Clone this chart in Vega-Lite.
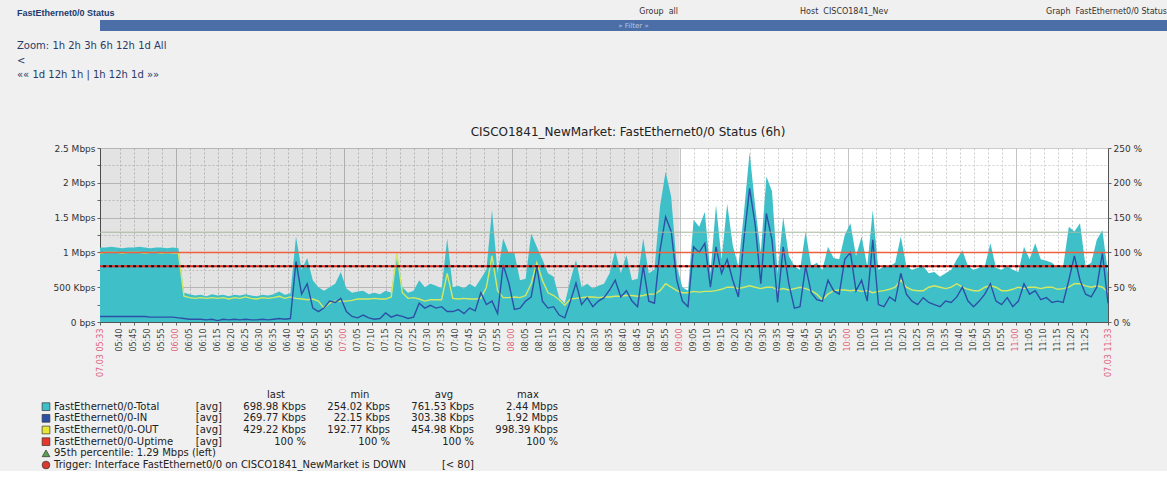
{
  "$schema": "https://vega.github.io/schema/vega-lite/v6.json",
  "background": "#f0f0f0",
  "padding": {"left": 17, "top": 8, "right": 0, "bottom": 0},
  "config": {"view": {"stroke": null}, "font": "DejaVu Sans", "axis": {"labelOverlap": false}},
  "title": {"text": "FastEthernet0/0 Status", "anchor": "start", "frame": "bounds", "font": "Liberation Sans", "fontSize": 9, "fontWeight": "bold", "color": "#1c3a6e", "offset": -10},
  "datasets": {
    "traffic": [
      {"time": "2012-03-07T05:33:00Z", "total": 1.07, "in": 0.08, "out": 0.99},
      {"time": "2012-03-07T05:35:00Z", "total": 1.07, "in": 0.08, "out": 1.0},
      {"time": "2012-03-07T05:37:00Z", "total": 1.08, "in": 0.08, "out": 1.0},
      {"time": "2012-03-07T05:39:00Z", "total": 1.07, "in": 0.08, "out": 1.0},
      {"time": "2012-03-07T05:41:00Z", "total": 1.06, "in": 0.08, "out": 0.99},
      {"time": "2012-03-07T05:43:00Z", "total": 1.07, "in": 0.08, "out": 1.0},
      {"time": "2012-03-07T05:45:00Z", "total": 1.07, "in": 0.08, "out": 1.0},
      {"time": "2012-03-07T05:47:00Z", "total": 1.08, "in": 0.08, "out": 1.0},
      {"time": "2012-03-07T05:49:00Z", "total": 1.07, "in": 0.08, "out": 0.99},
      {"time": "2012-03-07T05:51:00Z", "total": 1.06, "in": 0.07, "out": 1.0},
      {"time": "2012-03-07T05:53:00Z", "total": 1.07, "in": 0.07, "out": 1.0},
      {"time": "2012-03-07T05:55:00Z", "total": 1.07, "in": 0.07, "out": 0.99},
      {"time": "2012-03-07T05:57:00Z", "total": 1.06, "in": 0.07, "out": 1.0},
      {"time": "2012-03-07T05:59:00Z", "total": 1.07, "in": 0.07, "out": 0.99},
      {"time": "2012-03-07T06:01:00Z", "total": 1.06, "in": 0.06, "out": 0.99},
      {"time": "2012-03-07T06:03:00Z", "total": 0.42, "in": 0.05, "out": 0.37},
      {"time": "2012-03-07T06:05:00Z", "total": 0.4, "in": 0.04, "out": 0.35},
      {"time": "2012-03-07T06:07:00Z", "total": 0.38, "in": 0.04, "out": 0.34},
      {"time": "2012-03-07T06:09:00Z", "total": 0.39, "in": 0.04, "out": 0.35},
      {"time": "2012-03-07T06:11:00Z", "total": 0.37, "in": 0.03, "out": 0.34},
      {"time": "2012-03-07T06:13:00Z", "total": 0.4, "in": 0.04, "out": 0.35},
      {"time": "2012-03-07T06:15:00Z", "total": 0.38, "in": 0.02, "out": 0.34},
      {"time": "2012-03-07T06:17:00Z", "total": 0.39, "in": 0.04, "out": 0.35},
      {"time": "2012-03-07T06:19:00Z", "total": 0.37, "in": 0.03, "out": 0.33},
      {"time": "2012-03-07T06:21:00Z", "total": 0.39, "in": 0.04, "out": 0.35},
      {"time": "2012-03-07T06:23:00Z", "total": 0.38, "in": 0.03, "out": 0.34},
      {"time": "2012-03-07T06:25:00Z", "total": 0.4, "in": 0.04, "out": 0.36},
      {"time": "2012-03-07T06:27:00Z", "total": 0.38, "in": 0.03, "out": 0.34},
      {"time": "2012-03-07T06:29:00Z", "total": 0.37, "in": 0.03, "out": 0.33},
      {"time": "2012-03-07T06:31:00Z", "total": 0.39, "in": 0.04, "out": 0.35},
      {"time": "2012-03-07T06:33:00Z", "total": 0.38, "in": 0.03, "out": 0.34},
      {"time": "2012-03-07T06:35:00Z", "total": 0.4, "in": 0.04, "out": 0.35},
      {"time": "2012-03-07T06:37:00Z", "total": 0.44, "in": 0.05, "out": 0.37},
      {"time": "2012-03-07T06:39:00Z", "total": 0.39, "in": 0.04, "out": 0.34},
      {"time": "2012-03-07T06:41:00Z", "total": 0.41, "in": 0.05, "out": 0.36},
      {"time": "2012-03-07T06:43:00Z", "total": 1.23, "in": 0.87, "out": 0.34},
      {"time": "2012-03-07T06:45:00Z", "total": 0.75, "in": 0.4, "out": 0.33},
      {"time": "2012-03-07T06:47:00Z", "total": 0.92, "in": 0.55, "out": 0.32},
      {"time": "2012-03-07T06:49:00Z", "total": 0.6, "in": 0.2, "out": 0.33},
      {"time": "2012-03-07T06:51:00Z", "total": 0.5, "in": 0.15, "out": 0.3},
      {"time": "2012-03-07T06:53:00Z", "total": 0.45, "in": 0.2, "out": 0.2},
      {"time": "2012-03-07T06:55:00Z", "total": 0.5, "in": 0.3, "out": 0.27},
      {"time": "2012-03-07T06:57:00Z", "total": 0.55, "in": 0.28, "out": 0.3},
      {"time": "2012-03-07T06:59:00Z", "total": 0.72, "in": 0.34, "out": 0.3},
      {"time": "2012-03-07T07:01:00Z", "total": 0.48, "in": 0.15, "out": 0.3},
      {"time": "2012-03-07T07:03:00Z", "total": 0.42, "in": 0.08, "out": 0.31},
      {"time": "2012-03-07T07:05:00Z", "total": 0.44, "in": 0.06, "out": 0.33},
      {"time": "2012-03-07T07:07:00Z", "total": 0.45, "in": 0.1, "out": 0.33},
      {"time": "2012-03-07T07:09:00Z", "total": 0.4, "in": 0.06, "out": 0.33},
      {"time": "2012-03-07T07:11:00Z", "total": 0.42, "in": 0.04, "out": 0.34},
      {"time": "2012-03-07T07:13:00Z", "total": 0.4, "in": 0.05, "out": 0.33},
      {"time": "2012-03-07T07:15:00Z", "total": 0.45, "in": 0.13, "out": 0.33},
      {"time": "2012-03-07T07:17:00Z", "total": 0.42, "in": 0.07, "out": 0.36},
      {"time": "2012-03-07T07:19:00Z", "total": 1.0, "in": 0.1, "out": 0.98},
      {"time": "2012-03-07T07:21:00Z", "total": 0.5, "in": 0.08, "out": 0.42},
      {"time": "2012-03-07T07:23:00Z", "total": 0.42, "in": 0.05, "out": 0.34},
      {"time": "2012-03-07T07:25:00Z", "total": 0.45, "in": 0.07, "out": 0.35},
      {"time": "2012-03-07T07:27:00Z", "total": 0.6, "in": 0.27, "out": 0.33},
      {"time": "2012-03-07T07:29:00Z", "total": 0.5, "in": 0.2, "out": 0.3},
      {"time": "2012-03-07T07:31:00Z", "total": 0.55, "in": 0.24, "out": 0.32},
      {"time": "2012-03-07T07:33:00Z", "total": 0.52, "in": 0.2, "out": 0.32},
      {"time": "2012-03-07T07:35:00Z", "total": 0.48, "in": 0.22, "out": 0.32},
      {"time": "2012-03-07T07:37:00Z", "total": 1.2, "in": 0.15, "out": 0.7},
      {"time": "2012-03-07T07:39:00Z", "total": 0.5, "in": 0.15, "out": 0.34},
      {"time": "2012-03-07T07:41:00Z", "total": 0.52, "in": 0.18, "out": 0.33},
      {"time": "2012-03-07T07:43:00Z", "total": 0.48, "in": 0.12, "out": 0.34},
      {"time": "2012-03-07T07:45:00Z", "total": 0.55, "in": 0.2, "out": 0.33},
      {"time": "2012-03-07T07:47:00Z", "total": 0.5, "in": 0.16, "out": 0.33},
      {"time": "2012-03-07T07:49:00Z", "total": 0.62, "in": 0.42, "out": 0.34},
      {"time": "2012-03-07T07:51:00Z", "total": 0.75, "in": 0.25, "out": 0.5},
      {"time": "2012-03-07T07:53:00Z", "total": 1.61, "in": 0.3, "out": 0.95},
      {"time": "2012-03-07T07:55:00Z", "total": 0.7, "in": 0.12, "out": 0.45},
      {"time": "2012-03-07T07:57:00Z", "total": 1.2, "in": 0.82, "out": 0.35},
      {"time": "2012-03-07T07:59:00Z", "total": 0.99, "in": 0.56, "out": 0.35},
      {"time": "2012-03-07T08:01:00Z", "total": 0.99, "in": 0.18, "out": 0.36},
      {"time": "2012-03-07T08:03:00Z", "total": 0.6, "in": 0.2, "out": 0.35},
      {"time": "2012-03-07T08:05:00Z", "total": 0.62, "in": 0.3, "out": 0.38},
      {"time": "2012-03-07T08:07:00Z", "total": 1.27, "in": 0.36, "out": 0.55},
      {"time": "2012-03-07T08:09:00Z", "total": 1.08, "in": 0.8, "out": 0.85},
      {"time": "2012-03-07T08:11:00Z", "total": 0.9, "in": 0.3, "out": 0.6},
      {"time": "2012-03-07T08:13:00Z", "total": 0.7, "in": 0.2, "out": 0.42},
      {"time": "2012-03-07T08:15:00Z", "total": 0.65, "in": 0.22, "out": 0.38},
      {"time": "2012-03-07T08:17:00Z", "total": 0.35, "in": 0.1, "out": 0.32},
      {"time": "2012-03-07T08:19:00Z", "total": 0.27, "in": 0.06, "out": 0.24},
      {"time": "2012-03-07T08:21:00Z", "total": 0.6, "in": 0.3, "out": 0.33},
      {"time": "2012-03-07T08:23:00Z", "total": 0.89, "in": 0.56, "out": 0.34},
      {"time": "2012-03-07T08:25:00Z", "total": 0.5, "in": 0.25, "out": 0.35},
      {"time": "2012-03-07T08:27:00Z", "total": 0.55, "in": 0.35, "out": 0.36},
      {"time": "2012-03-07T08:29:00Z", "total": 0.48, "in": 0.22, "out": 0.36},
      {"time": "2012-03-07T08:31:00Z", "total": 0.52, "in": 0.3, "out": 0.35},
      {"time": "2012-03-07T08:33:00Z", "total": 0.55, "in": 0.35, "out": 0.36},
      {"time": "2012-03-07T08:35:00Z", "total": 0.7, "in": 0.46, "out": 0.36},
      {"time": "2012-03-07T08:37:00Z", "total": 1.03, "in": 0.6, "out": 0.37},
      {"time": "2012-03-07T08:39:00Z", "total": 0.7, "in": 0.36, "out": 0.37},
      {"time": "2012-03-07T08:41:00Z", "total": 0.96, "in": 0.45, "out": 0.38},
      {"time": "2012-03-07T08:43:00Z", "total": 0.6, "in": 0.3, "out": 0.38},
      {"time": "2012-03-07T08:45:00Z", "total": 0.62, "in": 0.22, "out": 0.37},
      {"time": "2012-03-07T08:47:00Z", "total": 1.2, "in": 0.8, "out": 0.38},
      {"time": "2012-03-07T08:49:00Z", "total": 0.7, "in": 0.3, "out": 0.4},
      {"time": "2012-03-07T08:51:00Z", "total": 0.75, "in": 0.27, "out": 0.4},
      {"time": "2012-03-07T08:53:00Z", "total": 1.66, "in": 1.03, "out": 0.45},
      {"time": "2012-03-07T08:55:00Z", "total": 2.16, "in": 1.51, "out": 0.55},
      {"time": "2012-03-07T08:57:00Z", "total": 1.8, "in": 1.3, "out": 0.5},
      {"time": "2012-03-07T08:59:00Z", "total": 0.8, "in": 0.6, "out": 0.45},
      {"time": "2012-03-07T09:01:00Z", "total": 0.5, "in": 0.3, "out": 0.42},
      {"time": "2012-03-07T09:03:00Z", "total": 0.45, "in": 0.22, "out": 0.42},
      {"time": "2012-03-07T09:05:00Z", "total": 1.47, "in": 1.08, "out": 0.44},
      {"time": "2012-03-07T09:07:00Z", "total": 1.37, "in": 1.0, "out": 0.43},
      {"time": "2012-03-07T09:09:00Z", "total": 1.58, "in": 1.13, "out": 0.44},
      {"time": "2012-03-07T09:11:00Z", "total": 0.7, "in": 0.5, "out": 0.44},
      {"time": "2012-03-07T09:13:00Z", "total": 1.68, "in": 1.08, "out": 0.45},
      {"time": "2012-03-07T09:15:00Z", "total": 0.9, "in": 0.7, "out": 0.47},
      {"time": "2012-03-07T09:17:00Z", "total": 1.7, "in": 0.9, "out": 0.5},
      {"time": "2012-03-07T09:19:00Z", "total": 1.1, "in": 0.6, "out": 0.5},
      {"time": "2012-03-07T09:21:00Z", "total": 0.8, "in": 0.36, "out": 0.48},
      {"time": "2012-03-07T09:23:00Z", "total": 1.58, "in": 1.2, "out": 0.5},
      {"time": "2012-03-07T09:25:00Z", "total": 2.44, "in": 1.92, "out": 0.52},
      {"time": "2012-03-07T09:27:00Z", "total": 1.66, "in": 1.4, "out": 0.5},
      {"time": "2012-03-07T09:29:00Z", "total": 1.0, "in": 0.55, "out": 0.48},
      {"time": "2012-03-07T09:31:00Z", "total": 2.09, "in": 1.56, "out": 0.5},
      {"time": "2012-03-07T09:33:00Z", "total": 1.88, "in": 1.18, "out": 0.5},
      {"time": "2012-03-07T09:35:00Z", "total": 0.7, "in": 0.28, "out": 0.46},
      {"time": "2012-03-07T09:37:00Z", "total": 1.51, "in": 1.08, "out": 0.48},
      {"time": "2012-03-07T09:39:00Z", "total": 0.95, "in": 0.55, "out": 0.46},
      {"time": "2012-03-07T09:41:00Z", "total": 0.8, "in": 0.2, "out": 0.48},
      {"time": "2012-03-07T09:43:00Z", "total": 0.75, "in": 0.22, "out": 0.5},
      {"time": "2012-03-07T09:45:00Z", "total": 1.3, "in": 0.8, "out": 0.48},
      {"time": "2012-03-07T09:47:00Z", "total": 0.8, "in": 0.42, "out": 0.45},
      {"time": "2012-03-07T09:49:00Z", "total": 0.85, "in": 0.32, "out": 0.4},
      {"time": "2012-03-07T09:51:00Z", "total": 0.75, "in": 0.3, "out": 0.32},
      {"time": "2012-03-07T09:53:00Z", "total": 1.08, "in": 0.6, "out": 0.4},
      {"time": "2012-03-07T09:55:00Z", "total": 0.92, "in": 0.45, "out": 0.45},
      {"time": "2012-03-07T09:57:00Z", "total": 0.9, "in": 0.4, "out": 0.46},
      {"time": "2012-03-07T09:59:00Z", "total": 1.25, "in": 0.9, "out": 0.46},
      {"time": "2012-03-07T10:01:00Z", "total": 1.42, "in": 1.0, "out": 0.45},
      {"time": "2012-03-07T10:03:00Z", "total": 0.95, "in": 0.45, "out": 0.46},
      {"time": "2012-03-07T10:05:00Z", "total": 1.23, "in": 0.6, "out": 0.44},
      {"time": "2012-03-07T10:07:00Z", "total": 0.8, "in": 0.3, "out": 0.45},
      {"time": "2012-03-07T10:09:00Z", "total": 1.61, "in": 1.18, "out": 0.42},
      {"time": "2012-03-07T10:11:00Z", "total": 0.75, "in": 0.25, "out": 0.44},
      {"time": "2012-03-07T10:13:00Z", "total": 0.8, "in": 0.22, "out": 0.45},
      {"time": "2012-03-07T10:15:00Z", "total": 0.8, "in": 0.36, "out": 0.47},
      {"time": "2012-03-07T10:17:00Z", "total": 0.85, "in": 0.3, "out": 0.5},
      {"time": "2012-03-07T10:19:00Z", "total": 1.23, "in": 0.7, "out": 0.6},
      {"time": "2012-03-07T10:21:00Z", "total": 0.8, "in": 0.4, "out": 0.5},
      {"time": "2012-03-07T10:23:00Z", "total": 0.75, "in": 0.3, "out": 0.46},
      {"time": "2012-03-07T10:25:00Z", "total": 0.78, "in": 0.25, "out": 0.45},
      {"time": "2012-03-07T10:27:00Z", "total": 0.8, "in": 0.35, "out": 0.45},
      {"time": "2012-03-07T10:29:00Z", "total": 0.7, "in": 0.28, "out": 0.5},
      {"time": "2012-03-07T10:31:00Z", "total": 0.72, "in": 0.25, "out": 0.52},
      {"time": "2012-03-07T10:33:00Z", "total": 0.65, "in": 0.22, "out": 0.5},
      {"time": "2012-03-07T10:35:00Z", "total": 0.7, "in": 0.3, "out": 0.48},
      {"time": "2012-03-07T10:37:00Z", "total": 0.75, "in": 0.28, "out": 0.5},
      {"time": "2012-03-07T10:39:00Z", "total": 0.9, "in": 0.36, "out": 0.55},
      {"time": "2012-03-07T10:41:00Z", "total": 1.03, "in": 0.5, "out": 0.5},
      {"time": "2012-03-07T10:43:00Z", "total": 0.8, "in": 0.3, "out": 0.47},
      {"time": "2012-03-07T10:45:00Z", "total": 0.75, "in": 0.22, "out": 0.45},
      {"time": "2012-03-07T10:47:00Z", "total": 0.78, "in": 0.3, "out": 0.45},
      {"time": "2012-03-07T10:49:00Z", "total": 0.8, "in": 0.4, "out": 0.5},
      {"time": "2012-03-07T10:51:00Z", "total": 1.13, "in": 0.55, "out": 0.52},
      {"time": "2012-03-07T10:53:00Z", "total": 0.78, "in": 0.3, "out": 0.5},
      {"time": "2012-03-07T10:55:00Z", "total": 0.75, "in": 0.25, "out": 0.45},
      {"time": "2012-03-07T10:57:00Z", "total": 0.8, "in": 0.35, "out": 0.45},
      {"time": "2012-03-07T10:59:00Z", "total": 0.75, "in": 0.22, "out": 0.47},
      {"time": "2012-03-07T11:01:00Z", "total": 0.72, "in": 0.3, "out": 0.5},
      {"time": "2012-03-07T11:03:00Z", "total": 1.08, "in": 0.55, "out": 0.48},
      {"time": "2012-03-07T11:05:00Z", "total": 0.9, "in": 0.4, "out": 0.5},
      {"time": "2012-03-07T11:07:00Z", "total": 1.13, "in": 0.45, "out": 0.5},
      {"time": "2012-03-07T11:09:00Z", "total": 0.9, "in": 0.32, "out": 0.48},
      {"time": "2012-03-07T11:11:00Z", "total": 0.88, "in": 0.35, "out": 0.5},
      {"time": "2012-03-07T11:13:00Z", "total": 0.85, "in": 0.28, "out": 0.5},
      {"time": "2012-03-07T11:15:00Z", "total": 0.78, "in": 0.3, "out": 0.47},
      {"time": "2012-03-07T11:17:00Z", "total": 0.8, "in": 0.28, "out": 0.48},
      {"time": "2012-03-07T11:19:00Z", "total": 1.37, "in": 0.6, "out": 0.5},
      {"time": "2012-03-07T11:21:00Z", "total": 1.3, "in": 0.95, "out": 0.55},
      {"time": "2012-03-07T11:23:00Z", "total": 1.42, "in": 0.6, "out": 0.55},
      {"time": "2012-03-07T11:25:00Z", "total": 0.8, "in": 0.4, "out": 0.52},
      {"time": "2012-03-07T11:27:00Z", "total": 0.85, "in": 0.36, "out": 0.5},
      {"time": "2012-03-07T11:29:00Z", "total": 1.18, "in": 0.5, "out": 0.52},
      {"time": "2012-03-07T11:31:00Z", "total": 1.32, "in": 0.99, "out": 0.5},
      {"time": "2012-03-07T11:33:00Z", "total": 0.7, "in": 0.27, "out": 0.43}
    ]
  },
  "spacing": 43,
  "vconcat": [
    {
      "vconcat": [
        {
          "width": 1067,
          "height": 11,
          "data": {"values": [{"label": "» Filter »"}]},
          "title": {"text": "Group\u00a0\u00a0all\u00a0\u00a0\u00a0\u00a0\u00a0\u00a0\u00a0\u00a0\u00a0\u00a0\u00a0\u00a0\u00a0\u00a0\u00a0\u00a0\u00a0\u00a0\u00a0\u00a0\u00a0\u00a0\u00a0\u00a0\u00a0\u00a0\u00a0\u00a0\u00a0\u00a0\u00a0\u00a0\u00a0\u00a0\u00a0\u00a0\u00a0\u00a0\u00a0\u00a0\u00a0\u00a0\u00a0\u00a0\u00a0\u00a0\u00a0\u00a0Host\u00a0\u00a0CISCO1841_Nev\u00a0\u00a0\u00a0\u00a0\u00a0\u00a0\u00a0\u00a0\u00a0\u00a0\u00a0\u00a0\u00a0\u00a0\u00a0\u00a0\u00a0\u00a0\u00a0\u00a0\u00a0\u00a0\u00a0\u00a0\u00a0\u00a0\u00a0\u00a0\u00a0\u00a0\u00a0\u00a0\u00a0\u00a0\u00a0\u00a0\u00a0\u00a0\u00a0\u00a0\u00a0\u00a0\u00a0\u00a0\u00a0\u00a0\u00a0\u00a0\u00a0\u00a0\u00a0\u00a0\u00a0\u00a0\u00a0\u00a0\u00a0\u00a0\u00a0\u00a0\u00a0\u00a0Graph\u00a0\u00a0FastEthernet0/0 Status\u00a0\u00a0", "orient": "top", "anchor": "end", "offset": 4, "fontSize": 8, "fontWeight": "normal", "color": "#333333"},
          "layer": [
            {"mark": {"type": "rect", "color": "#4b6ea6"}, "encoding": {}},
            {"mark": {"type": "text", "color": "#b8c8e0", "fontSize": 7}, "encoding": {"text": {"field": "label"}}}
          ]
        },
        {
          "width": 1067,
          "height": 1,
          "data": {"values": [{"label": ""}]},
          "title": {"text": ["Zoom: 1h 2h 3h 6h 12h 1d All", "<", "«« 1d 12h 1h | 1h 12h 1d »»"], "orient": "top", "anchor": "start", "dx": -83, "offset": 2, "fontSize": 10, "fontWeight": "normal", "lineHeight": 14.5, "color": "#2a3a66"},
          "mark": {"type": "rect", "color": "#f0f0f0"},
          "encoding": {}
        }
      ],
      "spacing": 10
    },
    {
      "spacing": 13,
      "vconcat": [
        {
          "width": 1008,
          "height": 174,
          "view": {"fill": "#ffffff"},
          "title": {"text": "CISCO1841_NewMarket: FastEthernet0/0 Status  (6h)", "fontSize": 12, "fontWeight": "normal", "color": "#222222", "dx": 24, "offset": 5},
          "resolve": {"scale": {"y": "independent"}},
          "layer": [
            {
              "data": {"values": [{"start": "2012-03-07T05:33:00Z", "end": "2012-03-07T09:00:00Z"}]},
              "mark": {"type": "rect", "color": "#000000", "opacity": 0.11},
              "encoding": {
                "x": {
                  "field": "start", "type": "temporal", "title": null,
                  "scale": {"type": "utc", "domain": [1331098380000, 1331119980000]},
                  "axis": {
                    "values": [1331098380000, 1331098800000, 1331099100000, 1331099400000, 1331099700000, 1331100000000, 1331100300000, 1331100600000, 1331100900000, 1331101200000, 1331101500000, 1331101800000, 1331102100000, 1331102400000, 1331102700000, 1331103000000, 1331103300000, 1331103600000, 1331103900000, 1331104200000, 1331104500000, 1331104800000, 1331105100000, 1331105400000, 1331105700000, 1331106000000, 1331106300000, 1331106600000, 1331106900000, 1331107200000, 1331107500000, 1331107800000, 1331108100000, 1331108400000, 1331108700000, 1331109000000, 1331109300000, 1331109600000, 1331109900000, 1331110200000, 1331110500000, 1331110800000, 1331111100000, 1331111400000, 1331111700000, 1331112000000, 1331112300000, 1331112600000, 1331112900000, 1331113200000, 1331113500000, 1331113800000, 1331114100000, 1331114400000, 1331114700000, 1331115000000, 1331115300000, 1331115600000, 1331115900000, 1331116200000, 1331116500000, 1331116800000, 1331117100000, 1331117400000, 1331117700000, 1331118000000, 1331118300000, 1331118600000, 1331118900000, 1331119200000, 1331119500000, 1331119980000],
                    "tickCount": 200,
                    "labelExpr": "utcminutes(datum.value) % 5 != 0 ? utcFormat(datum.value, '%d.%m %H:%M') : utcFormat(datum.value, '%H:%M')",
                    "labelAngle": 270,
                    "labelFontSize": 8,
                    "labelOverlap": false,
                    "labelFlush": false,
                    "labelBound": false,
                    "labelPadding": 3,
                    "labelColor": {"condition": {"test": "utcminutes(datum.value) == 0 || utcminutes(datum.value) % 5 != 0", "value": "#e0607a"}, "value": "#444444"},
                    "tickSize": 3,
                    "tickColor": "#666666",
                    "domainColor": "#555555",
                    "grid": true,
                    "gridColor": {"condition": {"test": "utcminutes(datum.value) == 0", "value": "#b0b0b0"}, "value": "#cccccc"},
                    "gridDash": {"condition": {"test": "utcminutes(datum.value) == 0", "value": [1, 0]}, "value": [2, 2]}
                  }
                },
                "x2": {"field": "end"}
              }
            },
            {
              "data": {"name": "traffic"},
              "mark": {"type": "area", "color": "#3fc0c9"},
              "encoding": {
                "x": {"field": "time", "type": "temporal", "scale": {"type": "utc"}, "title": null},
                "y": {
                  "field": "total", "type": "quantitative", "title": null,
                  "scale": {"domain": [0, 2.5], "nice": false},
                  "axis": {
                    "values": [0, 0.25, 0.5, 0.75, 1, 1.25, 1.5, 1.75, 2, 2.25, 2.5],
                    "tickCount": 100,
                    "labelExpr": "datum.value % 0.5 != 0 ? '' : datum.value == 0 ? '0 bps' : datum.value < 1 ? format(datum.value * 1000, 'd') + ' Kbps' : datum.value + ' Mbps'",
                    "labelFontSize": 9,
                    "labelColor": "#333333",
                    "tickSize": 3,
                    "tickColor": "#666666",
                    "domainColor": "#555555",
                    "grid": true,
                    "gridColor": {"condition": {"test": "datum.value % 0.5 == 0", "value": "#bdbdbd"}, "value": "#d2d2d2"},
                    "gridDash": {"condition": {"test": "datum.value % 0.5 == 0", "value": [1, 0]}, "value": [2, 2]}
                  }
                }
              }
            },
            {
              "data": {"name": "traffic"},
              "mark": {"type": "line", "color": "#d4e764", "strokeWidth": 1.4},
              "encoding": {
                "x": {"field": "time", "type": "temporal", "scale": {"type": "utc"}, "title": null},
                "y": {"field": "out", "type": "quantitative", "title": null, "scale": {"domain": [0, 2.5], "nice": false}, "axis": null}
              }
            },
            {
              "data": {"name": "traffic"},
              "mark": {"type": "line", "color": "#2c50a6", "strokeWidth": 1.4},
              "encoding": {
                "x": {"field": "time", "type": "temporal", "scale": {"type": "utc"}, "title": null},
                "y": {"field": "in", "type": "quantitative", "title": null, "scale": {"domain": [0, 2.5], "nice": false}, "axis": null}
              }
            },
            {
              "data": {"values": [{"p95": 1.29}]},
              "mark": {"type": "rule", "color": "#a3b89c", "strokeWidth": 1},
              "encoding": {"y": {"field": "p95", "type": "quantitative", "title": null, "scale": {"domain": [0, 2.5], "nice": false}, "axis": null}}
            },
            {
              "data": {"values": [{"time": "2012-03-07T05:33:00Z", "uptime": 100}, {"time": "2012-03-07T11:33:00Z", "uptime": 100}]},
              "mark": {"type": "line", "color": "#f0603c", "strokeWidth": 1.5},
              "encoding": {
                "x": {"field": "time", "type": "temporal", "scale": {"type": "utc"}, "title": null},
                "y": {
                  "field": "uptime", "type": "quantitative", "title": null,
                  "scale": {"domain": [0, 250], "nice": false},
                  "axis": {"orient": "right", "values": [0, 50, 100, 150, 200, 250], "tickCount": 100, "labelExpr": "datum.value + ' %'", "labelFontSize": 9, "labelColor": "#333333", "tickSize": 3, "tickColor": "#666666", "domainColor": "#555555", "grid": false}
                }
              }
            },
            {
              "data": {"values": [{"trigger": 80}]},
              "mark": {"type": "rule", "color": "#e02a20", "strokeWidth": 2},
              "encoding": {"y": {"field": "trigger", "type": "quantitative", "title": null, "scale": {"domain": [0, 250], "nice": false}, "axis": null}}
            },
            {
              "data": {"values": [{"trigger": 80}]},
              "mark": {"type": "rule", "color": "#111111", "strokeWidth": 2, "strokeDash": [3, 3]},
              "encoding": {"y": {"field": "trigger", "type": "quantitative", "title": null, "scale": {"domain": [0, 250], "nice": false}, "axis": null}}
            }
          ]
        },
        {
          "width": 460,
          "height": 70,
          "data": {"values": [
            {"row": "hdr", "name": "", "fn": "", "last": "last", "min": "min", "avg": "avg", "max": "max"},
            {"row": "Total", "name": "FastEthernet0/0-Total", "fn": "[avg]", "last": "698.98 Kbps", "min": "254.02 Kbps", "avg": "761.53 Kbps", "max": "2.44 Mbps"},
            {"row": "IN", "name": "FastEthernet0/0-IN", "fn": "[avg]", "last": "269.77 Kbps", "min": "22.15 Kbps", "avg": "303.38 Kbps", "max": "1.92 Mbps"},
            {"row": "OUT", "name": "FastEthernet0/0-OUT", "fn": "[avg]", "last": "429.22 Kbps", "min": "192.77 Kbps", "avg": "454.98 Kbps", "max": "998.39 Kbps"},
            {"row": "Uptime", "name": "FastEthernet0/0-Uptime", "fn": "[avg]", "last": "100 %", "min": "100 %", "avg": "100 %", "max": "100 %"},
            {"row": "p95", "name": "95th percentile: 1.29 Mbps  (left)", "fn": "", "last": "", "min": "", "avg": "", "max": ""},
            {"row": "trigger", "name": "Trigger: Interface FastEthernet0/0 on CISCO1841_NewMarket is DOWN", "fn": "", "last": "", "min": "", "avg": "[< 80]", "max": ""}
          ]},
          "transform": [{"fold": ["name", "fn", "last", "min", "avg", "max"], "as": ["col", "value"]}, {"filter": "datum.value != null && datum.value != ''"}],
          "layer": [
            {
              "transform": [{"filter": "datum.row != 'hdr' && datum.col == 'name'"}],
              "mark": {"type": "point", "filled": true, "size": 60, "stroke": "#333333", "strokeWidth": 0.7, "xOffset": -8, "opacity": 1},
              "encoding": {
                "x": {"field": "col", "type": "nominal", "scale": {"type": "point", "domain": ["name", "gap", "fn", "last", "min", "avg", "max"], "range": [-46, 458], "padding": 0}, "axis": null},
                "y": {"field": "row", "type": "nominal", "scale": {"type": "point", "domain": ["hdr", "Total", "IN", "OUT", "Uptime", "p95", "trigger"], "padding": 0}, "axis": null},
                "color": {"field": "row", "type": "nominal", "scale": {"domain": ["Total", "IN", "OUT", "Uptime", "p95", "trigger"], "range": ["#3fc0c9", "#2c50a6", "#e8e830", "#e8342a", "#5aa050", "#d83a30"]}, "legend": null},
                "shape": {"field": "row", "type": "nominal", "scale": {"domain": ["Total", "IN", "OUT", "Uptime", "p95", "trigger"], "range": ["square", "square", "square", "square", "triangle-up", "circle"]}, "legend": null}
              }
            },
            {
              "transform": [{"filter": "datum.row != 'hdr' && datum.col == 'name'"}],
              "mark": {"type": "text", "fontSize": 10, "color": "#222222", "align": "left", "baseline": "middle"},
              "encoding": {
                "x": {"field": "col", "type": "nominal"},
                "y": {"field": "row", "type": "nominal"},
                "text": {"field": "value"}
              }
            },
            {
              "transform": [{"filter": "datum.row != 'hdr' && datum.col != 'name'"}],
              "mark": {"type": "text", "fontSize": 10, "color": "#222222", "align": "right", "baseline": "middle"},
              "encoding": {
                "x": {"field": "col", "type": "nominal"},
                "y": {"field": "row", "type": "nominal"},
                "text": {"field": "value"}
              }
            },
            {
              "transform": [{"filter": "datum.row == 'hdr'"}],
              "mark": {"type": "text", "fontSize": 10, "color": "#222222", "align": "center", "baseline": "middle", "dx": -30},
              "encoding": {
                "x": {"field": "col", "type": "nominal"},
                "y": {"field": "row", "type": "nominal"},
                "text": {"field": "value"}
              }
            }
          ]
        }
      ]
    }
  ]
}
